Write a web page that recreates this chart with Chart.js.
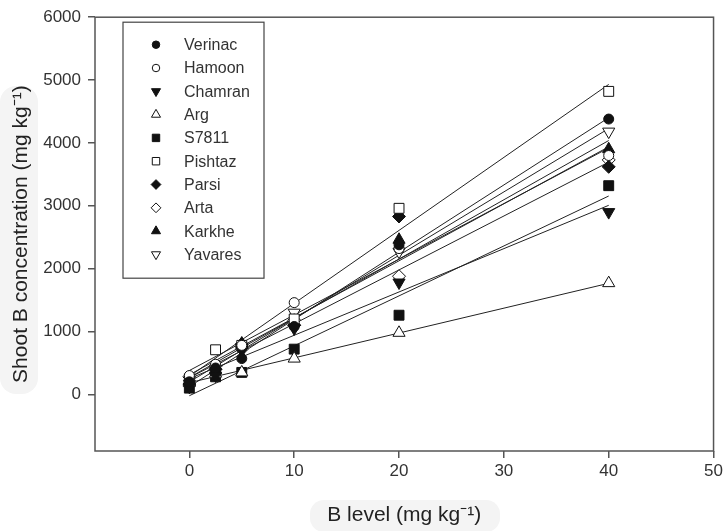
<!DOCTYPE html>
<html>
<head>
<meta charset="utf-8">
<script src="https://cdn.jsdelivr.net/npm/chart.js@4.4.1/dist/chart.umd.min.js"></script>
<style>
  html, body { margin: 0; padding: 0; background: #fff; }
  #wrap { width: 726px; height: 531px; }
</style>
</head>
<body>
<div id="wrap"><canvas id="myChart" width="726" height="531"></canvas></div>
<script>
// B level applied (mg kg-1)
const bLevels = [0, 2.5, 5, 10, 20, 40];

const cultivars = ["Verinac", "Hamoon", "Chamran", "Arg", "S7811", "Pishtaz", "Parsi", "Arta", "Karkhe", "Yavares"];

// shoot B concentration (mg kg-1)
const verinac = [200, 420, 570, 1080, 2380, 4380];
const hamoon  = [300, 480, 780, 1460, 2320, 3800];
const chamran = [120, 300, 700, 1050, 1780, 2900];
const arg     = [180, 330, 350, 570, 980, 1770];
const s7811   = [100, 280, 350, 720, 1260, 3320];
const pishtaz = [250, 710, 780, 1200, 2960, 4820];
const parsi   = [150, 400, 800, 1100, 2830, 3620];
const arta    = [280, 450, 720, 1180, 1880, 3730];
const karkhe  = [220, 380, 810, 1150, 2460, 3900];
const yavares = [170, 350, 730, 1300, 2270, 4180];

const xTicks = [0, 10, 20, 30, 40, 50];
const yTicks = [0, 1000, 2000, 3000, 4000, 5000, 6000];

const series = [verinac, hamoon, chamran, arg, s7811, pishtaz, parsi, arta, karkhe, yavares];

// marker look for each cultivar
const markers = [
  { style: "circle",   rot: 0,   fill: true,  r: 5 },
  { style: "circle",   rot: 0,   fill: false, r: 5 },
  { style: "triangle", rot: 180, fill: true,  r: 7 },
  { style: "triangle", rot: 0,   fill: false, r: 7 },
  { style: "rect",     rot: 0,   fill: true,  r: 7 },
  { style: "rect",     rot: 0,   fill: false, r: 7 },
  { style: "rectRot",  rot: 0,   fill: true,  r: 6.5 },
  { style: "rectRot",  rot: 0,   fill: false, r: 6.5 },
  { style: "triangle", rot: 0,   fill: true,  r: 7 },
  { style: "triangle", rot: 180, fill: false, r: 7 },
];

const FONT = "'Liberation Sans', Arial, sans-serif";

// least squares line through each cultivar's points, drawn from 0 to 40
function fitLine(xs, ys) {
  const n = xs.length;
  const mx = xs.reduce((a, b) => a + b, 0) / n;
  const my = ys.reduce((a, b) => a + b, 0) / n;
  let sxy = 0, sxx = 0;
  for (let i = 0; i < n; ++i) {
    sxy += (xs[i] - mx) * (ys[i] - my);
    sxx += (xs[i] - mx) * (xs[i] - mx);
  }
  const b = sxy / sxx;
  const a = my - b * mx;
  const x0 = xs[0], x1 = xs[n - 1];
  return [{ x: x0, y: a + b * x0 }, { x: x1, y: a + b * x1 }];
}

const datasets = [];
for (let i = 0; i < series.length; ++i) {
  const m = markers[i];
  datasets.push({
    label: cultivars[i],
    data: bLevels.map((x, j) => ({ x: x, y: series[i][j] })),
    pointStyle: m.style,
    rotation: m.rot,
    radius: m.r,
    hoverRadius: m.r,
    backgroundColor: m.fill ? "#111" : "#fff",
    borderColor: "#111",
    borderWidth: 1,
    showLine: false,
    order: 0,
  });
}
for (let i = 0; i < series.length; ++i) {
  datasets.push({
    label: cultivars[i] + " fit",
    data: fitLine(bLevels, series[i]),
    showLine: true,
    borderColor: "#222",
    borderWidth: 1,
    pointRadius: 0,
    order: 1,
  });
}

const framePlugin = {
  id: "framePlugin",
  beforeDraw(chart) {
    const ctx = chart.ctx;
    ctx.save();
    // faint scan shading behind the axis titles
    ctx.fillStyle = "#f4f4f4";
    ctx.beginPath();
    ctx.roundRect(0, 86, 38, 308, 16);
    ctx.fill();
    ctx.beginPath();
    ctx.roundRect(310, 500, 190, 32, 14);
    ctx.fill();
    ctx.restore();
  },
  afterDraw(chart) {
    const ctx = chart.ctx;
    const a = chart.chartArea;
    ctx.save();
    ctx.strokeStyle = "#555";
    ctx.lineWidth = 1.5;
    ctx.strokeRect(a.left, a.top, a.right - a.left, a.bottom - a.top);

    // legend box
    const lx = a.left + 28, ly = a.top + 5, lw = 141, lh = 256;
    ctx.fillStyle = "#fff";
    ctx.fillRect(lx, ly, lw, lh);
    ctx.strokeStyle = "#444";
    ctx.lineWidth = 1.2;
    ctx.strokeRect(lx, ly, lw, lh);
    ctx.font = "16px " + FONT;
    ctx.textBaseline = "middle";
    ctx.textAlign = "left";
    for (let i = 0; i < cultivars.length; ++i) {
      const m = markers[i];
      const y = ly + 22.5 + i * 23.3;
      ctx.fillStyle = m.fill ? "#111" : "#fff";
      ctx.strokeStyle = "#111";
      ctx.lineWidth = 1;
      Chart.helpers.drawPoint(ctx, {
        pointStyle: m.style, rotation: m.rot, radius: m.r * 0.75, borderWidth: 1,
      }, lx + 33, y);
      ctx.fillStyle = "#333";
      ctx.fillText(cultivars[i], lx + 61, y + 1);
    }
    ctx.restore();
  },
};

new Chart(document.getElementById("myChart"), {
  type: "scatter",
  data: { datasets: datasets },
  plugins: [framePlugin],
  options: {
    responsive: false,
    animation: false,
    devicePixelRatio: 1,
    layout: { padding: { top: 16, right: 10, left: 0, bottom: 0 } },
    plugins: { legend: { display: false }, tooltip: { enabled: false } },
    scales: {
      x: {
        type: "linear",
        min: -9,
        max: 50,
        afterBuildTicks: (s) => { s.ticks = xTicks.map((v) => ({ value: v })); },
        afterFit: (s) => { s.height = 80; },
        grid: { drawOnChartArea: false, drawTicks: true, tickLength: 7, color: "#555", lineWidth: 1.5 },
        border: { display: false },
        ticks: { font: { family: FONT, size: 17 }, color: "#333", padding: 3, maxRotation: 0,
                 callback: (v) => String(v) },
        title: {
          display: true,
          text: "B level (mg kg⁻¹)",
          font: { family: FONT, size: 21 },
          color: "#222",
          padding: { top: 0, bottom: 3 },
        },
      },
      y: {
        type: "linear",
        min: -900,
        max: 6000,
        afterBuildTicks: (s) => { s.ticks = yTicks.map((v) => ({ value: v })); },
        afterFit: (s) => { s.width = 95; },
        grid: { drawOnChartArea: false, drawTicks: true, tickLength: 7, color: "#555", lineWidth: 1.5 },
        border: { display: false },
        ticks: { font: { family: FONT, size: 17 }, color: "#333", padding: 7,
                 callback: (v) => String(v) },
        title: {
          display: true,
          text: "Shoot B concentration (mg kg⁻¹)",
          font: { family: FONT, size: 21 },
          color: "#222",
          padding: { top: 9, bottom: 0 },
        },
      },
    },
  },
});
</script>
</body>
</html>
